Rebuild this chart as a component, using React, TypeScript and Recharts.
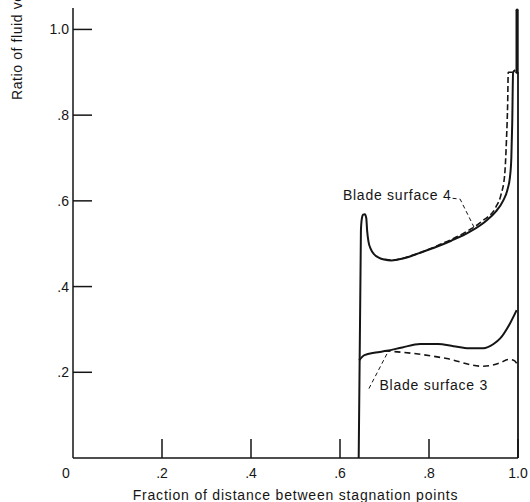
import { LineChart, Line, XAxis, YAxis, ReferenceDot } from "recharts";

const FONT = "'Liberation Sans', Arial, sans-serif";
const INK = "#151515";

const xTicks = [0, 0.2, 0.4, 0.6, 0.8, 1.0];
const yTicks = [0.2, 0.4, 0.6, 0.8, 1.0];

// blade surface 4 (solid), incl. the rise at the stagnation point
const s4SolidX = [0.642, 0.647, 0.649, 0.652, 0.656, 0.659, 0.661, 0.664, 0.669, 0.676, 0.688, 0.7, 0.715, 0.73, 0.75, 0.78, 0.817, 0.85, 0.892, 0.93, 0.95, 0.967, 0.976, 0.982, 0.985, 0.987, 0.989, 0.994];
const s4SolidY = [0, 0.53, 0.558, 0.568, 0.569, 0.56, 0.53, 0.505, 0.488, 0.476, 0.467, 0.463, 0.461, 0.463, 0.468, 0.479, 0.493, 0.507, 0.528, 0.555, 0.575, 0.601, 0.625, 0.656, 0.7, 0.78, 0.9, 0.905];

// blade surface 4 (dashed)
const s4DashX = [0.7, 0.72, 0.76, 0.82, 0.88, 0.92, 0.95, 0.962, 0.97, 0.974, 0.977, 0.978, 0.99, 0.998];
const s4DashY = [0.463, 0.462, 0.472, 0.496, 0.526, 0.553, 0.585, 0.615, 0.66, 0.74, 0.84, 0.9, 0.9, 0.9];

// blade surface 3 (solid)
const s3SolidX = [0.643, 0.655, 0.68, 0.705, 0.74, 0.78, 0.82, 0.855, 0.89, 0.922, 0.945, 0.96, 0.982, 0.997];
const s3SolidY = [0.228, 0.24, 0.246, 0.25, 0.258, 0.266, 0.266, 0.261, 0.256, 0.256, 0.266, 0.279, 0.314, 0.345];

// blade surface 3 (dashed)
const s3DashX = [0.7, 0.765, 0.84, 0.92, 0.96, 0.978, 0.99, 1.0];
const s3DashY = [0.25, 0.244, 0.232, 0.214, 0.222, 0.23, 0.228, 0.217];

// closing line at the trailing stagnation point
const closeLowX = [1.0, 1.0];
const closeLowY = [0, 0.9];
const closeTopX = [0.998, 0.998];
const closeTopY = [0.9, 1.045];

// annotation leaders
const lead4X = [0.853, 0.87, 0.901];
const lead4Y = [0.606, 0.604, 0.539];
const lead3X = [0.665, 0.668, 0.709];
const lead3Y = [0.162, 0.168, 0.25];

const zip = (xs: number[], ys: number[]) => xs.map((x, i) => ({ x, y: ys[i] }));

const fmt = (v: number) => (v === 0 ? "0" : v === 1 ? "1.0" : v.toFixed(1).replace(/^0/, ""));

function XTick(props: any) {
  const { x, y, payload } = props;
  const v = payload.value as number;
  return (
    <g>
      {v !== 0 && <line x1={x} y1={y} x2={x} y2={y - 19} stroke={INK} strokeWidth={1.5} />}
      <text x={v === 0 ? x - 7 : x} y={y + 20} textAnchor="middle" fontSize={14} fontFamily={FONT} fill={INK}>
        {fmt(v)}
      </text>
    </g>
  );
}

function YTick(props: any) {
  const { x, y, payload } = props;
  const v = payload.value as number;
  return (
    <g>
      <line x1={x} y1={y} x2={x + 19} y2={y} stroke={INK} strokeWidth={1.5} />
      <text x={x - 4} y={y + 5} textAnchor="end" fontSize={14} fontFamily={FONT} fill={INK}>
        {fmt(v)}
      </text>
    </g>
  );
}

function YLabel() {
  return (
    <text transform="translate(22,100) rotate(-90)" textAnchor="start" fontSize={14} letterSpacing={0.6} fontFamily={FONT} fill={INK}>
      Ratio of fluid velocity to critical velocity
    </text>
  );
}

export default function App() {
  const solid = { stroke: INK, strokeWidth: 2, dot: false, activeDot: false, isAnimationActive: false } as const;
  return (
    <div style={{ position: "absolute", left: 0, top: 0, background: "#fff" }}>
      <LineChart width={530} height={502} margin={{ top: 8, right: 12, bottom: 14, left: 8 }}>
        <XAxis
          type="number"
          dataKey="x"
          domain={[0, 1]}
          ticks={xTicks}
          tickLine={false}
          tickSize={0}
          tickMargin={0}
          tick={<XTick />}
          axisLine={{ stroke: INK, strokeWidth: 1.5 }}
          height={30}
          label={{ value: "Fraction of distance between stagnation points", position: "insideBottom", offset: -12, fontSize: 14, letterSpacing: 0.8, fontFamily: FONT, fill: INK }}
        />
        <YAxis
          type="number"
          dataKey="y"
          domain={[0, 1.05]}
          ticks={yTicks}
          tickLine={false}
          tickSize={0}
          tickMargin={0}
          tick={<YTick />}
          axisLine={{ stroke: INK, strokeWidth: 1.5 }}
          width={65}
          label={<YLabel />}
        />
        <Line data={zip(s4SolidX, s4SolidY)} dataKey="y" type="monotone" {...solid} />
        <Line data={zip(s4DashX, s4DashY)} dataKey="y" type="monotone" {...solid} strokeWidth={1.6} strokeDasharray="6 3" />
        <Line data={zip(s3SolidX, s3SolidY)} dataKey="y" type="monotone" {...solid} />
        <Line data={zip(s3DashX, s3DashY)} dataKey="y" type="monotone" {...solid} strokeWidth={1.6} strokeDasharray="6 4" />
        <Line data={zip(closeLowX, closeLowY)} dataKey="y" type="linear" {...solid} strokeWidth={1.8} />
        <Line data={zip(closeTopX, closeTopY)} dataKey="y" type="linear" {...solid} strokeWidth={3.2} strokeLinecap="round" />
        <Line data={zip(lead4X, lead4Y)} dataKey="y" type="linear" {...solid} strokeWidth={1} strokeDasharray="4 3" />
        <Line data={zip(lead3X, lead3Y)} dataKey="y" type="linear" {...solid} strokeWidth={1} strokeDasharray="4 3" />
        <ReferenceDot x={0.7285} y={0.6136} r={0} fill="none" stroke="none" ifOverflow="visible"
          label={{ value: "Blade surface 4", position: "center", fontSize: 14, letterSpacing: 0.75, fontFamily: FONT, fill: INK }} />
        <ReferenceDot x={0.8106} y={0.17} r={0} fill="none" stroke="none" ifOverflow="visible"
          label={{ value: "Blade surface 3", position: "center", fontSize: 14, letterSpacing: 0.75, fontFamily: FONT, fill: INK }} />
      </LineChart>
    </div>
  );
}
